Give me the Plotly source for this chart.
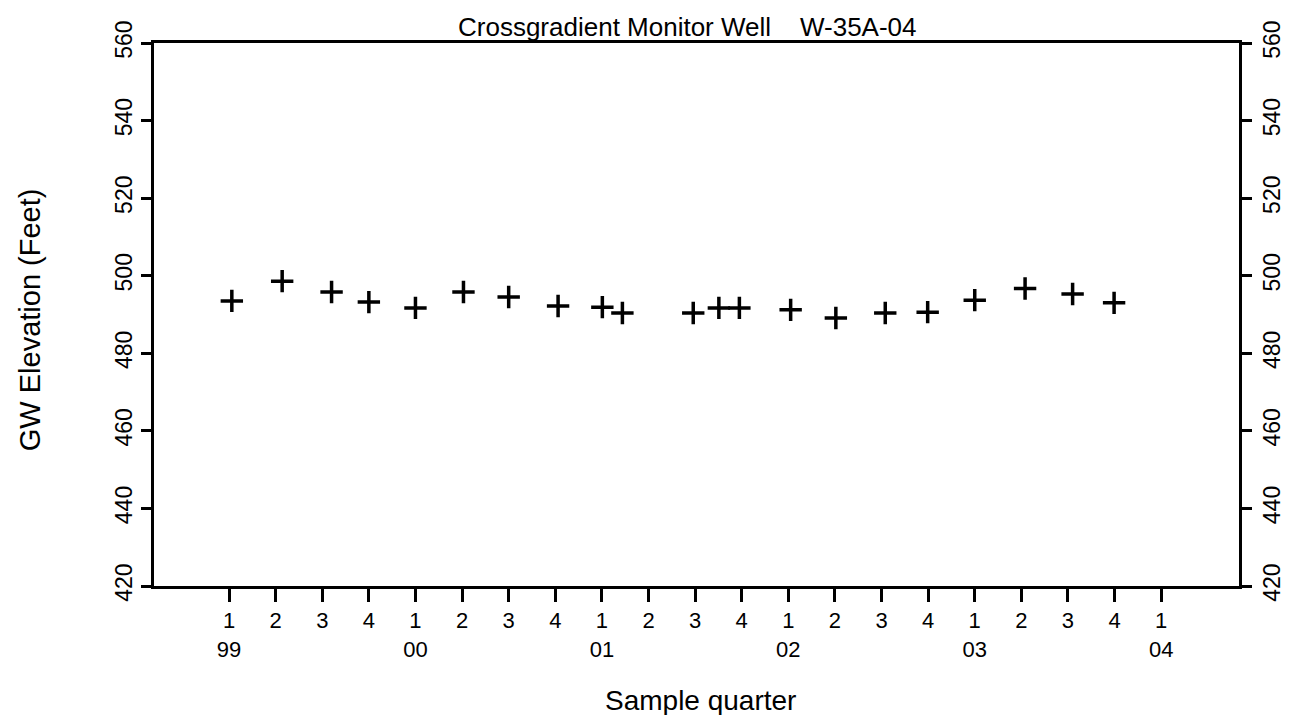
import plotly.graph_objects as go

# quarters since 1999 Q1 (0 = 1Q99)
quarter_pos = [0.06, 1.14, 2.20, 3.00, 4.00, 5.03, 6.00, 7.06, 8.01, 8.44,
               9.96, 10.51, 10.95, 12.05, 13.02, 14.08, 14.99, 16.00, 17.08, 18.10, 18.99]
gw_elevation = [493.5, 498.6, 495.8, 493.2, 491.7, 495.8, 494.5, 492.2, 491.9, 490.4,
                490.4, 491.7, 491.7, 491.2, 489.1, 490.4, 490.6, 493.7, 496.7, 495.3, 493.0]

quarter_labels = ['1', '2', '3', '4'] * 5 + ['1']
year_labels = ['99', '', '', '', '00', '', '', '', '01', '', '', '',
               '02', '', '', '', '03', '', '', '', '04']
tick_text = [q + '<br>' + (y if y else ' ') for q, y in zip(quarter_labels, year_labels)]
y_ticks = [420, 440, 460, 480, 500, 520, 540, 560]

font_name = 'Liberation Sans, Arial, sans-serif'

fig = go.Figure()

fig.add_trace(go.Scatter(
    x=quarter_pos,
    y=gw_elevation,
    mode='markers',
    marker=dict(symbol='cross-thin', size=16, line=dict(color='black', width=3.5)),
    showlegend=False
))

# onzichtbare trace voor de rechter as
fig.add_trace(go.Scatter(x=[quarter_pos[0]], y=[gw_elevation[0]], yaxis='y2',
                         mode='markers', marker=dict(opacity=0), showlegend=False,
                         hoverinfo='skip'))

y_axis_style = dict(
    range=[420, 560],
    tickmode='array',
    tickvals=y_ticks,
    ticks='outside',
    ticklen=10,
    tickwidth=3,
    tickcolor='black',
    tickangle=-90,
    showline=True,
    linecolor='black',
    linewidth=3,
    showgrid=False,
    zeroline=False,
    tickfont=dict(size=23)
)

fig.update_layout(
    width=1289,
    height=715,
    paper_bgcolor='white',
    plot_bgcolor='white',
    margin=dict(l=146, r=44, t=33, b=137),
    font=dict(family=font_name, color='black', size=20),
    xaxis=dict(
        range=[-1.61, 21.67],
        tickmode='array',
        tickvals=list(range(21)),
        ticktext=tick_text,
        ticks='outside',
        ticklen=13,
        tickwidth=3,
        tickcolor='black',
        showline=True,
        linecolor='black',
        linewidth=3,
        mirror=True,
        showgrid=False,
        zeroline=False,
        tickfont=dict(size=22)
    ),
    yaxis=y_axis_style,
    yaxis2=dict(y_axis_style, overlaying='y', side='right'),
    annotations=[
        dict(text='Crossgradient Monitor Well    W-35A-04', xref='paper', yref='paper',
             x=0.492, y=1.0606, xanchor='center', yanchor='top', showarrow=False,
             font=dict(size=26)),
        dict(text='GW Elevation (Feet)', xref='paper', yref='paper',
             x=-0.114, y=0.49, xanchor='center', yanchor='middle', showarrow=False,
             textangle=-90, font=dict(size=29)),
        dict(text='Sample quarter', xref='paper', yref='paper',
             x=0.504, y=-0.21, xanchor='center', yanchor='middle', showarrow=False,
             font=dict(size=28)),
    ]
)

fig.write_html('out.html')
